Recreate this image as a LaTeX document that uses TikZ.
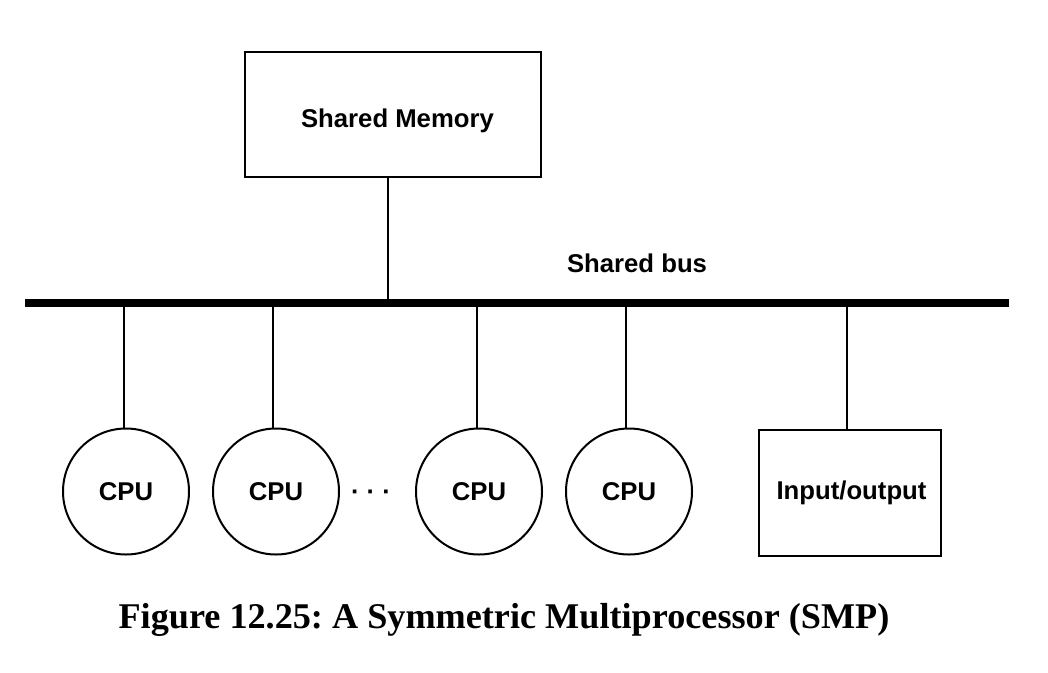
\documentclass[tikz,border=0pt]{standalone}
\usepackage{fontspec}
\setmainfont{Liberation Sans}
\newfontfamily\capfont{Liberation Serif}
\frenchspacing

\begin{document}
\begin{tikzpicture}[x=1pt,y=-1pt,line width=2pt,
  font=\fontsize{25.7}{30}\selectfont\bfseries,
  unit/.style={draw,rectangle,inner sep=0pt},
  cpu/.style={draw,circle,minimum size=126pt,inner sep=0pt}]

\useasboundingbox (0,0) rectangle (1048,672);

\coordinate (busl) at (25,303);
\coordinate (busr) at (1009,303);

\node[unit,minimum width=296pt,minimum height=125pt,
  label={[xshift=5pt,yshift=-6pt]center:Shared Memory}] (mem) at (392.5,114.5) {};
\node[cpu] (c1) at (126,491.5) {CPU};
\node[cpu] (c2) at (276,491.5) {CPU};
\node[cpu] (c3) at (479,491.5) {CPU};
\node[cpu] (c4) at (629,491.5) {CPU};
\node (dots) at (371,495) {· · ·};
\node[unit,minimum width=182pt,minimum height=126pt] (io) at (850,493) {\hspace{3pt}Input/output};

\draw[line width=8.5pt] (busl) -- node[pos=0.622,above=23pt] (buslabel) {Shared bus} (busr);

\draw (mem.south -| 388,0) -- (388,303);
\draw (124,303) -- (124,0 |- c1.north);
\draw (273,303) -- (273,0 |- c2.north);
\draw (477,303) -- (477,0 |- c3.north);
\draw (626,303) -- (626,0 |- c4.north);
\draw (847,303) -- (847,0 |- io.north);

\node[font=\capfont\fontsize{36.2}{42}\selectfont\bfseries,anchor=base] (caption) at (504,628) {Figure 12.25: A Symmetric Multiprocessor (SMP)};

\end{tikzpicture}
\end{document}
